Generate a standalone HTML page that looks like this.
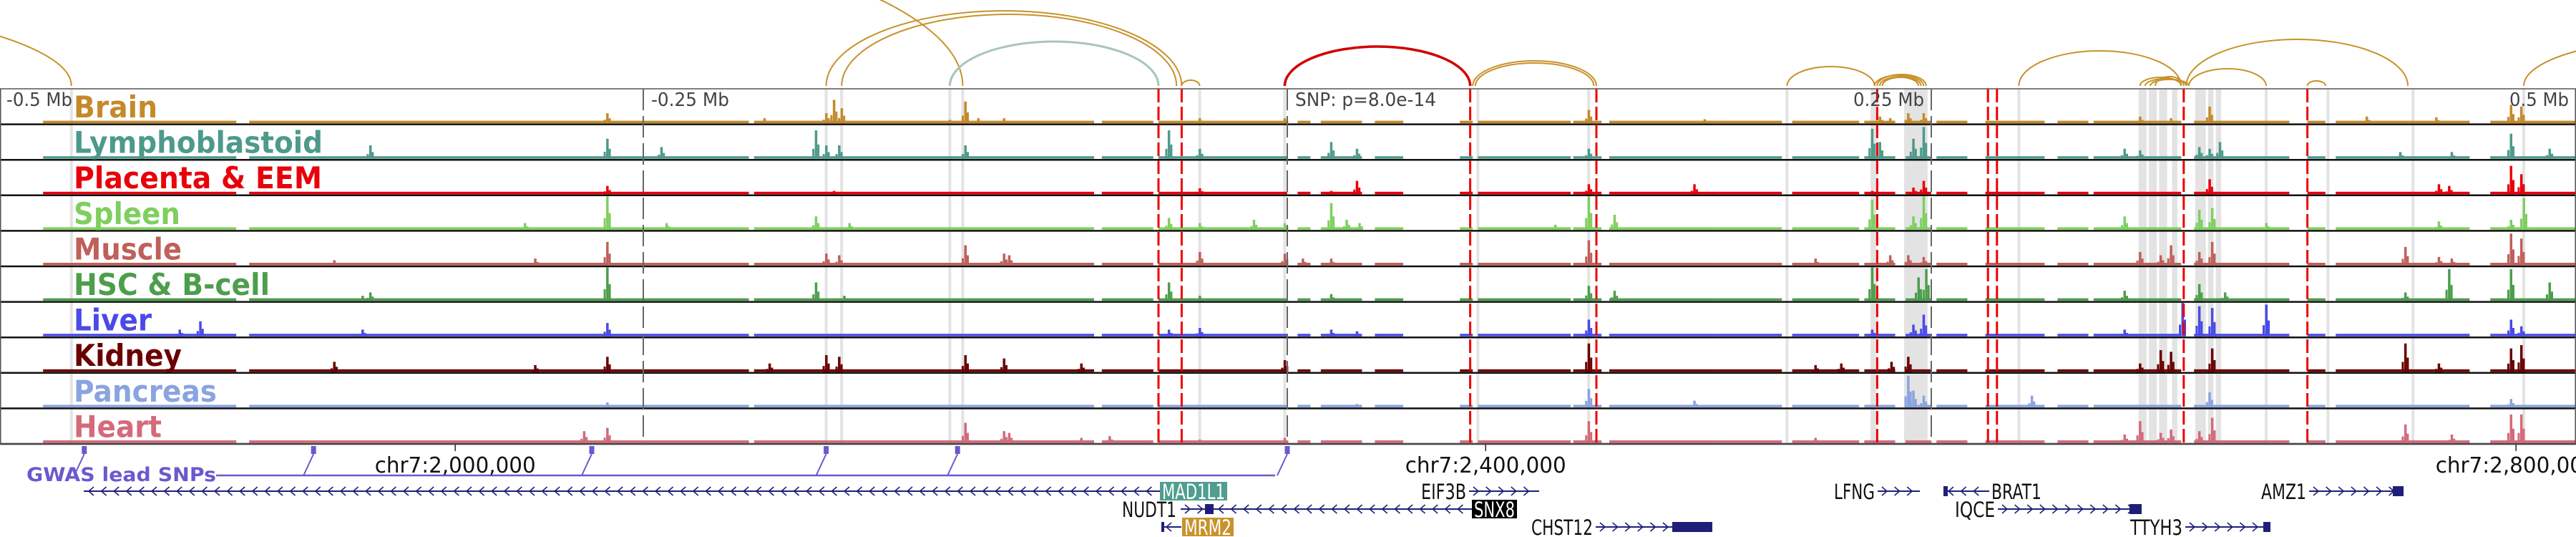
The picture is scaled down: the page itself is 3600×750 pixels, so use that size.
<!DOCTYPE html>
<html><head><meta charset="utf-8"><title>Genome browser tracks</title>
<style>
html,body{margin:0;padding:0;background:#fff;}
svg{display:block;}
text{font-family:"DejaVu Sans","Liberation Sans",sans-serif;}
</style></head>
<body>
<svg id="chart" width="3600" height="750" viewBox="0 0 3600 750" xmlns="http://www.w3.org/2000/svg">
<g id="bands"></g>
<g id="tracks"></g>
<g id="vlines"></g>
<g id="arcs"></g>
<g id="labels"></g>
<g id="bottom"></g>
</svg>
<script>
// ---- data (kb offset from lead SNP) ----
const trackNames = ["Brain","Lymphoblastoid","Placenta & EEM","Spleen","Muscle","HSC & B-cell","Liver","Kidney","Pancreas","Heart"];
const trackColors = ["#c48a2a","#4d9a8c","#e8000b","#7fcf5f","#c0605a","#4c9e4c","#4a4ae8","#6b0000","#8aa4e0","#d46a7a"];
const brainPos = [-264,-203,-179,-176,-173,-131,-125,-120,-110,-34,-1,117,162,230,234,241,247,331,343,358,419,446,475,479];
const brainH = [0.3,0.15,0.3,0.7,0.45,0.1,0.65,0.15,0.15,0.15,0.15,0.4,0.12,0.2,0.15,0.3,0.3,0.2,0.15,0.5,0.2,0.18,0.55,0.5];
const lymphPos = [-356,-264,-243,-183,-179,-174,-125,-46,-34,17,27,117,227,230,243,247,325,331,354,358,362,432,452,475,490];
const lymphH = [0.4,0.6,0.35,0.85,0.4,0.4,0.4,0.85,0.3,0.5,0.3,0.3,0.9,0.5,0.6,0.95,0.3,0.25,0.35,0.3,0.5,0.2,0.2,0.75,0.3];
const placentaPos = [-264,-176,-34,17,27,117,158,227,243,247,358,447,451,475,479];
const placentaH = [0.25,0.1,0.18,0.1,0.4,0.3,0.3,0.1,0.2,0.4,0.45,0.3,0.25,0.85,0.6];
const spleenPos = [-296,-264,-241,-183,-170,-46,-34,-13,-1,17,23,28,104,117,127,227,243,247,325,354,359,380,447,475,480];
const spleenH = [0.2,1.0,0.2,0.4,0.2,0.35,0.2,0.3,0.2,0.8,0.3,0.2,0.15,1.0,0.45,0.9,0.4,1.0,0.4,0.6,0.65,0.2,0.25,0.3,0.95];
const musclePos = [-370,-292,-264,-179,-174,-125,-110,-108,-34,-1,6,17,117,205,234,241,247,331,339,343,354,359,434,447,452,475,479];
const muscleH = [0.15,0.2,0.7,0.35,0.3,0.6,0.35,0.3,0.4,0.35,0.2,0.2,0.75,0.2,0.3,0.3,0.25,0.4,0.3,0.6,0.4,0.7,0.55,0.25,0.2,0.95,0.8];
const hscPos = [-359,-356,-264,-183,-172,-46,-34,17,117,127,227,245,248,325,354,364,434,451,475,490];
const hscH = [0.15,0.25,1.0,0.55,0.15,0.55,0.15,0.2,0.45,0.3,1.0,0.7,0.95,0.3,0.5,0.25,0.25,0.95,0.95,0.55];
const liverPos = [-430,-422,-359,-264,-46,-34,17,27,117,227,243,247,325,347.5,354,359,380,475,479];
const liverH = [0.2,0.45,0.2,0.4,0.2,0.25,0.2,0.15,0.5,0.2,0.35,0.65,0.2,1.0,0.9,0.85,0.95,0.5,0.3];
const kidneyPos = [-370,-292,-264,-201,-179,-174,-125,-110,-80,-1,117,205,215,234.5,241,331,339,343,359,434,447,475,479];
const kidneyH = [0.3,0.2,0.45,0.25,0.5,0.45,0.5,0.4,0.25,0.35,0.85,0.2,0.25,0.3,0.45,0.25,0.65,0.6,0.7,0.85,0.25,0.7,0.8];
const pancreasPos = [-264,27,117,158,241,243,247,289,358,475];
const pancreasH = [0.15,0.1,0.55,0.2,0.95,0.5,0.35,0.35,0.45,0.25];
const heartPos = [-273,-264,-125,-110,-108,-80,-69,-34,-1,117,205,325,331,339,343,354,359,434,452,475,479];
const heartH = [0.35,0.45,0.6,0.35,0.3,0.15,0.2,0.1,0.15,0.65,0.15,0.25,0.65,0.3,0.4,0.35,0.75,0.55,0.25,0.85,0.85];
const coverStart = [-483,-403,-207,-72,-50,4,13,34,67,74,111,125,167,196,224,240,252,271,299,313,352,396,407,467];
const coverEnd = [-408,-209,-75,-52,0,9,29,45,72,110,122,167,192,222,236,250,264,294,311,347,389,403,459,500];
const redLines = [-50,-41,71,120,229,272,275.5,348,396];
const grayDash = [-250,0,250];
const bandStart = [-472,-179,-173,-131,-126,-34,-1,74,117,194,227,240,284,331,335,339,344,353,358,361,380,404,437,480];
const bandEnd = [-472,-179,-173,-131,-126,-34,-1,74,117,194,228,248,284,333,337,341,345,356,359,362,380,404,437,480];
const arcStart = [-833,-600,-179,-173,-131,-41,-1,72,73,194,228,229,230,231,284,331,333,335,337,349,350,396,480];
const arcEnd = [-472,-126,-41,-43,-50,-34,71,120,119,228,247,248,246,245,347,347,349,350,348,435,380,403,611];
const arcHeight = [130,240,105,100,62,8,55,35,32,27,15,16,13,12,49,12,10,9,13,65,24,7,67];
const arcColor = ["#c8922a","#c8922a","#c8922a","#c8922a","#a9c4bc","#c8922a","#d00000","#c8922a","#c8922a","#c8922a","#c8922a","#c8922a","#c8922a","#c8922a","#c8922a","#c8922a","#c8922a","#c8922a","#c8922a","#c8922a","#c8922a","#c8922a","#c8922a"];
const snpPos = [-467,-378,-270,-179,-128,0];
const tickPos = [-323,77,477];
const tickLabels = ["chr7:2,000,000","chr7:2,400,000","chr7:2,800,000"];

const peaks = [[brainPos,brainH],[lymphPos,lymphH],[placentaPos,placentaH],[spleenPos,spleenH],[musclePos,muscleH],[hscPos,hscH],[liverPos,liverH],[kidneyPos,kidneyH],[pancreasPos,pancreasH],[heartPos,heartH]];
const labelWidths = [117,348,347,149,151,274,109,151,200,123];

// ---- geometry ----
const NS = "http://www.w3.org/2000/svg";
const X = kb => 1799 + kb*3.6;
const TOP = 124, TH = 49.6, NT = 10, BOT = TOP + NT*TH;
function mk(tag, attrs, parent){ const e=document.createElementNS(NS,tag); for(const k in attrs) e.setAttribute(k,attrs[k]); parent.appendChild(e); return e; }
const gB=document.getElementById('bands'), gT=document.getElementById('tracks'), gV=document.getElementById('vlines'), gA=document.getElementById('arcs'), gL=document.getElementById('labels'), gO=document.getElementById('bottom');

for(let i=0;i<bandStart.length;i++){
  const x1=X(bandStart[i])-2, x2=X(bandEnd[i])+2;
  const r=mk('rect',{x:x1,y:TOP,width:x2-x1,height:BOT-TOP,fill:'#e3e3e3'},gB);
  
  
}
for(let t=0;t<NT;t++){
  const top=TOP+t*TH, base=top+TH-1.5, col=trackColors[t];
  const g=mk('g',{},gT);
  
  
  for(let i=0;i<coverStart.length;i++){
    const x1=X(coverStart[i]), x2=X(coverEnd[i]);
    const r=mk('rect',{x:x1,y:base-3.5,width:x2-x1,height:3.5,fill:col},g);
    
    
  }
  const [pp,hh]=peaks[t];
  for(let i=0;i<pp.length;i++){
    const x=X(pp[i]), h=hh[i]*(TH-3);
    const r=mk('rect',{x:x-1.5,y:base-h,width:3.5,height:h,fill:col},g);
    
    
    const s1=mk('rect',{x:x-5,y:base-h*0.35,width:3,height:h*0.35,fill:col},g);
    
    
    const s2=mk('rect',{x:x+2,y:base-h*0.5,width:3,height:h*0.5,fill:col},g);
    
    
  }
  const line=mk('line',{x1:0,x2:3600,y1:top+TH,y2:top+TH,stroke:'#111','stroke-width':2.5},g);
  
  
  const lab=mk('text',{x:103,y:top+40,'font-size':42,'font-weight':'bold',fill:col,textLength:labelWidths[t],lengthAdjust:'spacingAndGlyphs'},gL);
  lab.textContent=trackNames[t];
  
  
}
const fr=mk('rect',{x:0.75,y:TOP,width:3598.5,height:BOT-TOP,fill:'none',stroke:'#555','stroke-width':1.5},gV);


for(const kb of grayDash){
  const l=mk('line',{x1:X(kb),x2:X(kb),y1:TOP,y2:BOT,stroke:'#666','stroke-width':2,'stroke-dasharray':'30,8'},gV);
  
  
}
for(const kb of redLines){
  const l=mk('line',{x1:X(kb),x2:X(kb),y1:TOP,y2:BOT,stroke:'#ee0000','stroke-width':3,'stroke-dasharray':'19,6'},gV);
  
  
}
const topLabels=[["-0.5 Mb",9,92],["-0.25 Mb",910,109],["SNP: p=8.0e-14",1810,197],["0.25 Mb",2590,99],["0.5 Mb",3507,83]];
for(const [t,x,w] of topLabels){
  const e=mk('text',{x:x,y:148,'font-size':26,fill:'#444',textLength:w,lengthAdjust:'spacingAndGlyphs'},gL);
  e.textContent=t;
  
  
}
for(let i=0;i<arcStart.length;i++){
  const x1=X(arcStart[i]), x2=X(arcEnd[i]), rx=(x2-x1)/2, ry=arcHeight[i];
  const w = arcColor[i]==='#d00000'?3.5:(arcColor[i]==='#a9c4bc'?3:2);
  const p=mk('path',{d:`M${x1},120 A${rx},${ry} 0 0 1 ${x2},120`,fill:'none',stroke:arcColor[i],'stroke-width':w},gA);
  
  
}
const gw=mk('text',{x:37,y:672,'font-size':27,'font-weight':'bold',fill:'#6a5acd',textLength:265,lengthAdjust:'spacingAndGlyphs'},gO);
gw.textContent='GWAS lead SNPs';


const hl=mk('line',{x1:302,x2:X(0)-17,y1:664,y2:664,stroke:'#6a5acd','stroke-width':2.5},gO);


for(const kb of snpPos){
  const x=X(kb);
  const m=mk('rect',{x:x-3.5,y:623,width:7,height:11,fill:'#6a5acd'},gO);
  
  
  const d=mk('line',{x1:x,y1:634,x2:x-14,y2:664,stroke:'#6a5acd','stroke-width':2},gO);
  
  
}
for(let i=0;i<tickPos.length;i++){
  const x=X(tickPos[i]);
  const tk=mk('line',{x1:x,x2:x,y1:621,y2:630,stroke:'#222','stroke-width':1.5},gO);
  
  
  const tx=mk('text',{x:x,y:660,'font-size':30,fill:'#111','text-anchor':'middle',textLength:225,lengthAdjust:'spacingAndGlyphs'},gO);
  tx.textContent=tickLabels[i];
  
  
}
const genes=[
 ["MAD1L1","box",1621,94,117,1621,-1,0,"#4f9e8f",0,0],
 ["EIF3B","left",2051,63,2053,2151,1,0,null,0,0],
 ["NUDT1","left",1646,76,1650,1690,1,1,null,1684,1696],
 ["SNX8","box",2057,63,1696,2057,-1,1,"#000",0,0],
 ["MRM2","box",1652,72,1623,1651,-1,2,"#c8922c",1623,1627],
 ["CHST12","left",2228,86,2230,2393,1,2,null,2337,2393],
 ["LFNG","left",2622,57,2624,2683,1,0,null,0,0],
 ["BRAT1","right",2783,70,2716,2780,-1,0,null,2716,2722],
 ["IQCE","left",2790,56,2792,2993,1,1,null,2976,2993],
 ["AMZ1","left",3225,63,3227,3359,1,0,null,3344,3359],
 ["TTYH3","left",3052,73,3054,3173,1,2,null,3163,3173]
];
const rowY=[686,711,736];
for(const g of genes){
  const [name,side,lx,lw,s,e,dir,row,fill,bs,be]=g;
  const y=rowY[row];
  const grp=mk('g',{},gO);
  
  
  mk('line',{x1:s,x2:e,y1:y,y2:y,stroke:'#1f1f7a','stroke-width':2},grp);
  for(let x=s+10;x<e-4;x+=17.6){
    mk('path',{d: dir>0?`M${x-4},${y-6} L${x+3},${y} L${x-4},${y+6}`:`M${x+4},${y-6} L${x-3},${y} L${x+4},${y+6}`,fill:'none',stroke:'#1f1f7a','stroke-width':1.6},grp);
  }
  if(be>bs) mk('rect',{x:bs,y:y-7,width:be-bs,height:14,fill:'#1f1f7a'},grp);
  if(side==='box'){
    mk('rect',{x:lx,y:y-13,width:lw,height:26,fill:fill},grp);
    const t=mk('text',{x:lx+3,y:y+11,'font-size':29,fill:'#fff',textLength:lw-6,lengthAdjust:'spacingAndGlyphs'},grp);
    t.textContent=name;
  } else if(side==='left'){
    const t=mk('text',{x:lx-2,y:y+11,'font-size':29,fill:'#111','text-anchor':'end',textLength:lw,lengthAdjust:'spacingAndGlyphs'},grp);
    t.textContent=name;
  } else {
    const t=mk('text',{x:lx,y:y+11,'font-size':29,fill:'#111',textLength:lw,lengthAdjust:'spacingAndGlyphs'},grp);
    t.textContent=name;
  }
}
</script>
</body></html>
